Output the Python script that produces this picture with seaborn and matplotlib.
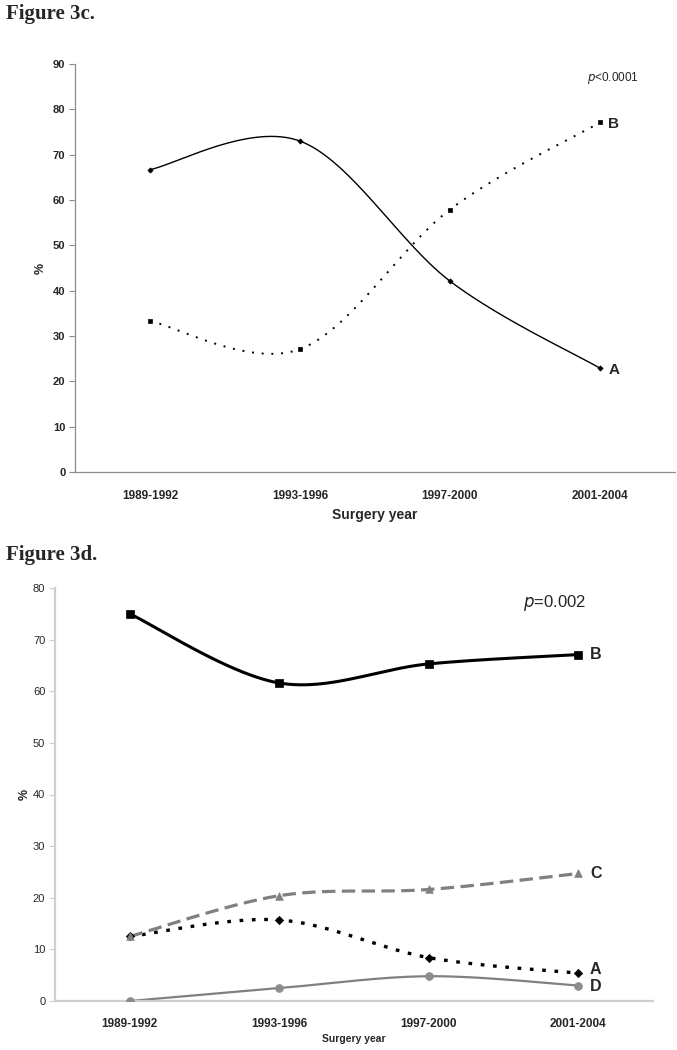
import numpy as np
import pandas as pd
import matplotlib
matplotlib.use("Agg")
import matplotlib.pyplot as plt
import seaborn as sns

# ---------------- data ----------------
periods = ["1989-1992", "1993-1996", "1997-2000", "2001-2004"]

c_A = [66.7, 73.0, 42.1, 22.9]
c_B = [33.3, 27.1, 57.9, 77.1]

d_B = [75.0, 61.6, 65.3, 67.1]
d_C = [12.5, 20.4, 21.6, 24.7]
d_A = [12.5, 15.7, 8.4, 5.4]
d_D = [0.0, 2.5, 4.8, 3.0]

c_yticks = [0, 10, 20, 30, 40, 50, 60, 70, 80, 90]
d_yticks = [0, 10, 20, 30, 40, 50, 60, 70, 80]

sns.set_style("white")
NARROW = ["Liberation Sans Narrow", "Liberation Sans", "DejaVu Sans"]
SANS = ["Liberation Sans", "DejaVu Sans"]
SERIF = ["Liberation Serif", "DejaVu Serif"]
plt.rcParams["font.family"] = SANS

W, H = 677, 1050
fig = plt.figure(figsize=(W / 100, H / 100), dpi=100)


def smooth(vals, n=60):
    """Excel-like smoothed curve (Catmull-Rom -> cubic Bezier) through the points."""
    x = np.arange(len(vals), dtype=float)
    y = np.asarray(vals, dtype=float)
    P = np.column_stack([x, y])
    xs, ys = [], []
    t = np.linspace(0, 1, n)
    for i in range(len(P) - 1):
        p0 = P[i - 1] if i > 0 else P[i]
        p1 = P[i]
        p2 = P[i + 1]
        p3 = P[i + 2] if i + 2 < len(P) else P[i + 1]
        b1 = p1 + (p2 - p0) / 6.0
        b2 = p2 - (p3 - p1) / 6.0
        pts = ((1 - t) ** 3)[:, None] * p1 + (3 * (1 - t) ** 2 * t)[:, None] * b1 \
            + (3 * (1 - t) * t ** 2)[:, None] * b2 + (t ** 3)[:, None] * p2
        xs.append(pts[:, 0])
        ys.append(pts[:, 1])
    return np.concatenate(xs), np.concatenate(ys)


def setup_axes(ax, yticks, ylim, spine_color, spine_lw, ylab_weight, xpad):
    ax.set_xlim(-0.5, 3.5)
    ax.set_ylim(*ylim)
    for s in ["top", "right"]:
        ax.spines[s].set_visible(False)
    for s in ["left", "bottom"]:
        ax.spines[s].set_color(spine_color)
        ax.spines[s].set_linewidth(spine_lw)
    ax.set_xticks(range(len(periods)))
    ax.set_xticklabels(periods, fontsize=8.5, fontweight="bold", family=NARROW)
    ax.set_xticks(np.arange(-0.5, 3.6, 1.0), minor=True)
    ax.tick_params(axis="x", which="major", length=0, pad=xpad)
    ax.tick_params(axis="x", which="minor", length=4, direction="out", color=spine_color, width=0.8)
    ax.set_yticks(yticks)
    ax.set_yticklabels([str(v) for v in yticks], fontsize=8, fontweight=ylab_weight, family=NARROW)
    ax.tick_params(axis="y", length=4, direction="out", color=spine_color, width=0.8, pad=3, left=True)
    ax.grid(False)


# ---------------- Figure 3c ----------------
ax1 = fig.add_axes([75 / W, 1 - 472 / H, 600 / W, 408 / H])
setup_axes(ax1, c_yticks, (0, 90), "#8c8c8c", 0.9, "bold", 13)

xs, ys = smooth(c_A)
ax1.plot(xs, ys, color="black", lw=1.0, solid_capstyle="round")
xs, ys = smooth(c_B)
ax1.plot(xs, ys, color="black", lw=1.4, linestyle=(0, (1, 4.0)), dash_capstyle="butt")

dfc = pd.DataFrame({"x": np.arange(len(periods)), "A": c_A, "B": c_B})
sns.scatterplot(data=dfc, x="x", y="A", marker="D", s=7, color="black", edgecolor="black", linewidth=0.5, ax=ax1, zorder=5)
sns.scatterplot(data=dfc, x="x", y="B", marker="s", s=12, color="black", edgecolor="black", linewidth=0.5, ax=ax1, zorder=5)
ax1.set_xlabel("Surgery year", fontsize=10, fontweight="bold", family=NARROW, labelpad=4)
ax1.set_ylabel("%", fontsize=9, fontweight="bold", family=SANS)
ax1.yaxis.set_label_coords(-0.047, 0.5)

ax1.annotate("B", (3, c_B[3]), xytext=(6, -1), textcoords="offset points",
             fontsize=11, fontweight="bold", va="center", ha="left")
ax1.annotate("A", (3, c_A[3]), xytext=(6, -1), textcoords="offset points",
             fontsize=11, fontweight="bold", va="center", ha="left")

fig.text(587 / W, 1 - 78 / H, r"$\mathit{p}$<0.0001", fontsize=8.5, ha="left", va="center", family=SANS)
fig.text(6 / W, 1 - 14 / H, "Figure 3c.", fontsize=15, fontweight="bold", family=SERIF, ha="left", va="center")

# ---------------- Figure 3d ----------------
ax2 = fig.add_axes([55 / W, 1 - 1001 / H, 598 / W, 413 / H])
setup_axes(ax2, d_yticks, (0, 80), "#cfcfcf", 1.6, "normal", 12)

xs, ys = smooth(d_D)
ax2.plot(xs, ys, color="#808080", lw=1.6)
xs, ys = smooth(d_A)
ax2.plot(xs, ys, color="black", lw=2.4, linestyle=(0, (1.1, 2.6)), dash_capstyle="butt")
xs, ys = smooth(d_C)
ax2.plot(xs, ys, color="#808080", lw=2.3, linestyle=(0, (4.2, 2.0)), dash_capstyle="butt")
xs, ys = smooth(d_B)
ax2.plot(xs, ys, color="black", lw=2.2)

dfd = pd.DataFrame({"x": np.arange(len(periods)), "A": d_A, "B": d_B, "C": d_C, "D": d_D})
sns.scatterplot(data=dfd, x="x", y="D", marker="o", s=32, color="#8c8c8c", edgecolor="#8c8c8c", linewidth=0.5, ax=ax2, zorder=5)
sns.scatterplot(data=dfd, x="x", y="A", marker="D", s=18, color="black", edgecolor="black", linewidth=0.5, ax=ax2, zorder=5)
sns.scatterplot(data=dfd, x="x", y="C", marker="^", s=30, color="#808080", edgecolor="#808080", linewidth=0.5, ax=ax2, zorder=5)
sns.scatterplot(data=dfd, x="x", y="B", marker="s", s=30, color="black", edgecolor="black", linewidth=0.5, ax=ax2, zorder=6)
ax2.set_xlabel("Surgery year", fontsize=7.5, fontweight="bold", family=NARROW, labelpad=3)
ax2.set_ylabel("%", fontsize=9, fontweight="bold", family=SANS)
ax2.yaxis.set_label_coords(-0.04, 0.5)

for lab, vals, dy in [("B", d_B, 0), ("C", d_C, 0), ("A", d_A, 2.5), ("D", d_D, -0.5)]:
    ax2.annotate(lab, (3, vals[3]), xytext=(8.5, dy), textcoords="offset points",
                 fontsize=11.5, fontweight="bold", va="center", ha="left")

fig.text(523 / W, 1 - 603 / H, r"$\mathit{p}$=0.002", fontsize=12, ha="left", va="center", family=SANS)
fig.text(6 / W, 1 - 555 / H, "Figure 3d.", fontsize=15, fontweight="bold", family=SERIF, ha="left", va="center")

fig.savefig("out.png", dpi=100)
